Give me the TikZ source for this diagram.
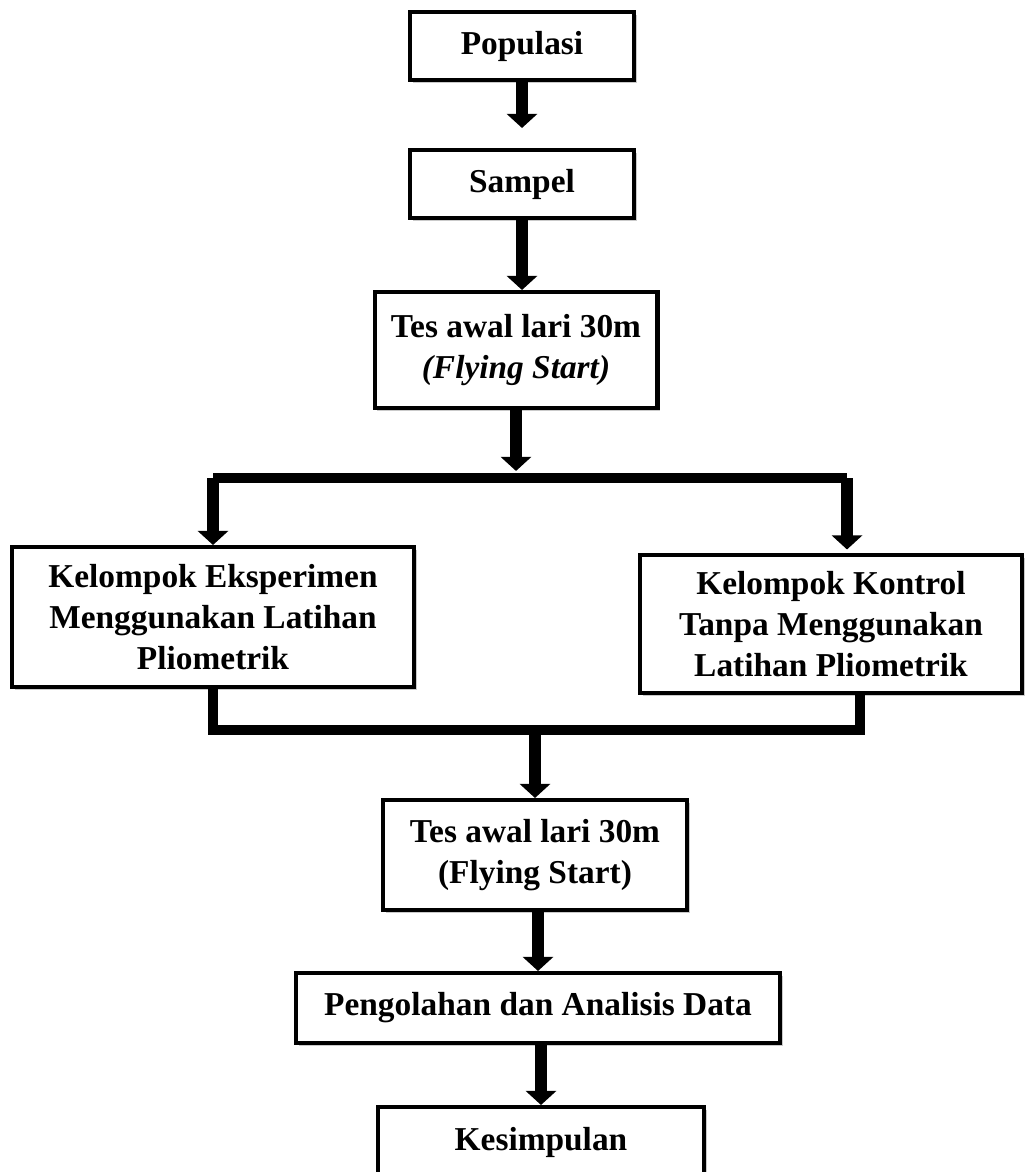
\documentclass[tikz,border=0pt]{standalone}
\usepackage{fontspec}
\setmainfont{Liberation Serif}
\usetikzlibrary{arrows.meta,shadows}

\begin{document}
\begin{tikzpicture}[x=0.02cm,y=-0.02cm,line join=miter,
    box/.style={draw,line width=2.3pt,fill=white,align=center,inner sep=2pt,
      font=\fontsize{19}{23.5}\selectfont\bfseries,
      drop shadow={shadow xshift=1.5pt,shadow yshift=-1.5pt,fill=black!35,opacity=.6}},
    arr/.style={line width=6.8pt,-{Triangle[width=17pt,length=8pt]}},
    bar/.style={line width=5.5pt,line cap=square}]

  \useasboundingbox (0,0) rectangle (1028,1172);

  % boxes
  \node[box,minimum width=4.48cm,minimum height=1.36cm] (pop) at (522,46) {Populasi};
  \node[box,minimum width=4.48cm,minimum height=1.36cm] (sampel) at (522,184) {Sampel};
  \node[box,minimum width=5.66cm,minimum height=2.32cm] (pretest) at (516,350)
    {Tes awal lari 30m\\\textit{(Flying Start)}};
  \node[box,minimum width=8.04cm,minimum height=2.8cm] (eksp) at (213,617)
    {Kelompok Eksperimen\\Menggunakan Latihan\\Pliometrik};
  \node[box,minimum width=7.64cm,minimum height=2.76cm] (kontrol) at (831,624)
    {Kelompok Kontrol\\Tanpa Menggunakan\\Latihan Pliometrik};
  \node[box,minimum width=6.08cm,minimum height=2.2cm] (posttest) at (535,855)
    {Tes awal lari 30m\\(Flying Start)};
  \node[box,minimum width=9.68cm,minimum height=1.4cm] (olah) at (538,1008)
    {Pengolahan dan Analisis Data};
  \node[box,minimum width=6.54cm,minimum height=1.4cm] (simpul) at (541,1142)
    {Kesimpulan};

  % split and join points
  \coordinate (splitL) at (213,478);
  \coordinate (splitR) at (847,478);
  \coordinate (joinL) at (213,730);
  \coordinate (joinR) at (860,730);

  % connectors
  \draw[arr,shorten >=0.4cm] (pop) -- (sampel);
  \draw[arr] (sampel.south) -- (sampel.south |- pretest.north);
  \draw[arr,shorten >=4pt] (pretest.south) -- (pretest.south |- splitL);
  \draw[bar] (splitL) -- (splitR);
  \draw[arr] (splitL) -- (eksp.north);
  \draw[arr,shorten >=2pt] (splitR) -- (splitR |- kontrol.north);
  \draw[bar] (eksp.south) -- (joinL) -- (joinR) -- (joinR |- kontrol.south);
  \draw[arr] (posttest.north |- joinL) -- (posttest.north);
  \draw[arr] (olah.north |- posttest.south) -- (olah.north);
  \draw[arr] (simpul.north |- olah.south) -- (simpul.north);

\end{tikzpicture}
\end{document}
